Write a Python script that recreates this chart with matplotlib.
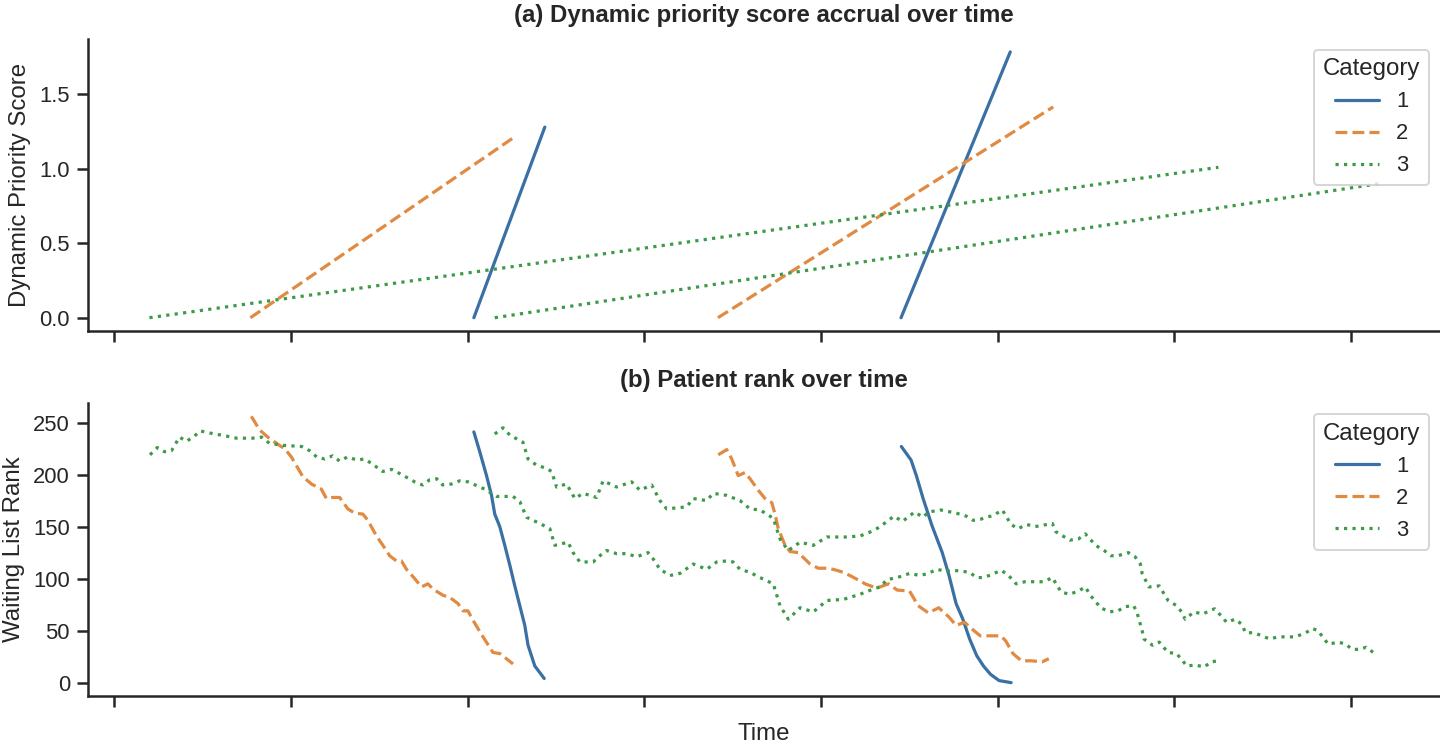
import matplotlib
matplotlib.use("Agg")
import matplotlib.pyplot as plt
import seaborn as sns
from matplotlib.ticker import MultipleLocator, NullFormatter

# categories and their look
categories = ["1", "2", "3"]
cat_colors = ["#3a70a3", "#e08a42", "#3c9a48"]
cat_styles = ["-", "--", ":"]

# ---- panel (a): priority score, start and end of each patient's wait (days)
c1a_score_days = [122.1, 146.2]
c1a_score = [0.0, 1.28]
c1b_score_days = [267.2, 304.3]
c1b_score = [0.0, 1.785]
c2a_score_days = [46.2, 136.0]
c2a_score = [0.0, 1.215]
c2b_score_days = [205.0, 318.9]
c2b_score = [0.0, 1.416]
c3a_score_days = [11.9, 375.0]
c3a_score = [0.0, 1.01]
c3b_score_days = [129.2, 429.4]
c3b_score = [0.0, 0.90]

# ---- panel (b): waiting list rank
c1a_days = [122.1, 124.1, 126.4, 128.1, 129.2, 130.9, 132.6, 134.3, 136.0,
            137.7, 139.4, 140.5, 142.8, 146.0]
c1a_rank = [241, 222, 199, 180, 162, 150, 132, 113, 93, 74, 55, 36, 16, 4]

c1b_days = [267.3, 270.6, 272.4, 274.7, 277.7, 281.2, 283.5, 285.9, 288.2,
            290.5, 292.9, 295.2, 297.6, 300.5, 304.6]
c1b_rank = [227, 214, 199, 177, 151, 125, 103, 76, 61, 42, 26, 16, 8, 2, 0]

c2a_days = [46.5, 49.3, 52.1, 56.1, 57.8, 60.1, 64.0, 66.9, 70.3, 72.0, 74.2,
            76.5, 79.3, 81.6, 84.4, 86.1, 89.0, 91.2, 93.5, 95.8, 97.5, 99.2,
            102.0, 104.3, 106.5, 108.2, 111.6, 113.9, 116.7, 118.4, 120.1,
            121.8, 125.2, 128.6, 130.9, 135.4]
c2a_rank = [256, 243, 236, 228, 225, 217, 198, 191, 186, 177, 178, 178, 167,
            163, 162, 156, 141, 132, 122, 117, 117, 109, 100, 92, 95, 90, 84,
            82, 76, 69, 69, 60, 44, 29, 28, 18]

c2b_days = [205.1, 208.0, 209.7, 211.9, 214.2, 215.9, 218.7, 221.0, 223.3,
            224.4, 225.5, 227.8, 229.5, 232.3, 236.3, 239.1, 242.5, 245.4,
            247.6, 250.5, 255.0, 257.8, 260.1, 262.9, 265.9, 270.1, 273.0,
            276.5, 280.0, 283.5, 285.9, 288.8, 291.1, 294.1, 297.6, 301.1,
            302.8, 305.2, 308.1, 311.6, 315.1, 317.4]
c2b_rank = [219, 224, 215, 199, 202, 196, 185, 177, 173, 162, 148, 132, 126,
            125, 114, 110, 110, 108, 106, 102, 95, 92, 92, 95, 89, 88, 74, 67,
            72, 63, 55, 58, 52, 45, 45, 45, 40, 28, 21, 21, 20, 23]

c3a_days = [12.1, 14.6, 17.0, 19.4, 22.1, 24.5, 27.2, 29.1, 32.3, 38.1, 41.5,
            46.9, 50.0, 52.7, 57.8, 63.6, 66.3, 68.7, 71.4, 74.1, 76.5, 79.2,
            82.3, 85.0, 87.7, 91.1, 94.2, 96.9, 102.0, 104.7, 107.1, 109.5,
            111.5, 114.6, 117.3, 120.1, 125.8, 129.8, 135.4, 137.7, 140.0,
            144.5, 147.9, 149.6, 154.1, 155.8, 158.1, 162.6, 164.9, 167.2,
            170.6, 174.0, 177.4, 181.3, 183.0, 185.3, 188.7, 192.1, 196.6,
            201.2, 204.6, 208.0, 210.2, 212.5, 215.9, 219.3, 223.8, 226.1,
            228.9, 232.9, 237.4, 242.0, 247.6, 253.3, 257.8, 260.1, 262.4,
            265.9, 270.1, 273.6, 276.5, 279.4, 282.3, 284.7, 288.2, 290.5,
            292.9, 295.2, 298.1, 301.1, 303.4, 306.3, 309.3, 312.8, 315.7,
            318.6, 321.6, 324.5, 327.4, 329.8, 331.5, 335.0, 338.0, 340.9,
            343.2, 346.2, 347.3, 349.1, 349.7, 352.6, 354.9, 357.9, 360.8,
            364.3, 367.2, 370.2, 372.5, 374.9]
c3a_rank = [219, 226, 222, 223, 236, 232, 237, 242, 240, 237, 235, 235, 236,
            230, 228, 227, 223, 217, 215, 218, 213, 217, 214, 215, 210, 203,
            205, 201, 193, 190, 195, 196, 190, 191, 194, 193, 186, 179, 179,
            174, 159, 153, 148, 132, 135, 125, 116, 116, 122, 127, 124, 124,
            121, 125, 119, 109, 103, 105, 114, 109, 116, 117, 116, 109, 106,
            101, 95, 74, 61, 72, 68, 79, 80, 85, 90, 92, 99, 101, 105, 103,
            105, 109, 107, 108, 107, 106, 101, 101, 104, 108, 104, 95, 97, 97,
            97, 101, 87, 85, 88, 92, 84, 72, 68, 69, 73, 74, 68, 50, 42, 36,
            39, 29, 28, 16, 17, 15, 20, 21]

c3b_days = [129.2, 132.0, 134.3, 138.8, 140.5, 143.4, 146.8, 148.5, 150.2,
            153.6, 156.4, 159.2, 163.8, 166.0, 170.6, 175.7, 178.5, 182.5,
            185.3, 187.6, 194.4, 196.6, 201.2, 203.4, 208.0, 212.5, 215.9,
            219.3, 223.8, 226.1, 228.9, 232.9, 237.4, 242.0, 248.8, 253.3,
            257.8, 260.1, 264.8, 267.7, 271.8, 274.7, 276.5, 280.6, 285.9,
            289.4, 291.7, 294.1, 298.7, 301.6, 304.6, 306.9, 309.9, 312.8,
            318.6, 319.8, 324.5, 327.4, 329.8, 333.3, 336.2, 338.5, 340.9,
            344.4, 346.7, 348.5, 349.1, 351.4, 354.9, 357.9, 360.8, 362.5,
            363.7, 366.7, 369.6, 373.7, 376.0, 377.8, 380.7, 383.0, 384.2,
            387.1, 392.4, 395.3, 398.8, 401.2, 404.7, 407.0, 408.8, 412.3,
            415.8, 418.2, 420.5, 422.9, 425.2, 428.1]
c3b_rank = [239, 245, 238, 231, 215, 209, 206, 203, 188, 191, 177, 182, 178,
            194, 188, 193, 185, 190, 175, 167, 169, 177, 175, 182, 180, 175,
            167, 166, 158, 138, 127, 135, 132, 140, 140, 141, 146, 150, 160,
            155, 164, 159, 164, 166, 163, 160, 156, 157, 161, 166, 152, 148,
            152, 150, 153, 145, 137, 138, 143, 132, 127, 122, 122, 125, 121,
            114, 105, 92, 93, 79, 74, 68, 61, 68, 66, 71, 64, 58, 61, 56, 48,
            48, 42, 44, 44, 44, 48, 52, 50, 37, 39, 37, 32, 32, 34, 28]

score_series = [
    ("1", c1a_score_days, c1a_score), ("1", c1b_score_days, c1b_score),
    ("2", c2a_score_days, c2a_score), ("2", c2b_score_days, c2b_score),
    ("3", c3a_score_days, c3a_score), ("3", c3b_score_days, c3b_score),
]
rank_series = [
    ("1", c1a_days, c1a_rank), ("1", c1b_days, c1b_rank),
    ("2", c2a_days, c2a_rank), ("2", c2b_days, c2b_rank),
    ("3", c3a_days, c3a_rank), ("3", c3b_days, c3b_rank),
]

sns.set_theme(style="ticks", context="notebook")
plt.rcParams["font.family"] = ["Liberation Sans", "DejaVu Sans"]
plt.rcParams["text.color"] = ".15"
plt.rcParams["axes.labelcolor"] = ".15"

fig = plt.figure(figsize=(10, 743 / 144), dpi=144)
ax1 = fig.add_axes([0.0611, 0.5545, 0.9389, 0.3935])
ax2 = fig.add_axes([0.0611, 0.0633, 0.9389, 0.3943], sharex=ax1)


def draw(ax, series):
    seen = set()
    for cat, xs, ys in series:
        i = categories.index(cat)
        lab = cat if cat not in seen else None
        seen.add(cat)
        ax.plot(xs, ys, color=cat_colors[i], linestyle=cat_styles[i],
                linewidth=1.6, label=lab)
    handles, labels = ax.get_legend_handles_labels()
    order = sorted(range(len(labels)), key=lambda k: labels[k])
    ax.legend([handles[k] for k in order], [labels[k] for k in order],
              title="Category", loc="upper right")


draw(ax1, score_series)
draw(ax2, rank_series)

ax1.set_title("(a) Dynamic priority score accrual over time",
              fontweight="bold", pad=8.5)
ax1.set_ylabel("Dynamic Priority Score")
ax1.set_yticks([0.0, 0.5, 1.0, 1.5])
ax1.yaxis.set_major_formatter(matplotlib.ticker.FormatStrFormatter("%.1f"))

ax2.set_title("(b) Patient rank over time", fontweight="bold", pad=8)
ax2.set_ylabel("Waiting List Rank")
ax2.set_xlabel("Time", labelpad=8)
ax2.set_yticks([0, 50, 100, 150, 200, 250])

for ax in (ax1, ax2):
    ax.xaxis.set_major_locator(MultipleLocator(60))
    ax.xaxis.set_major_formatter(NullFormatter())
    ax.tick_params(axis="x", labelbottom=False)
    ax.tick_params(length=5.5)
    sns.despine(ax=ax)

fig.savefig("out.png", dpi=144)
